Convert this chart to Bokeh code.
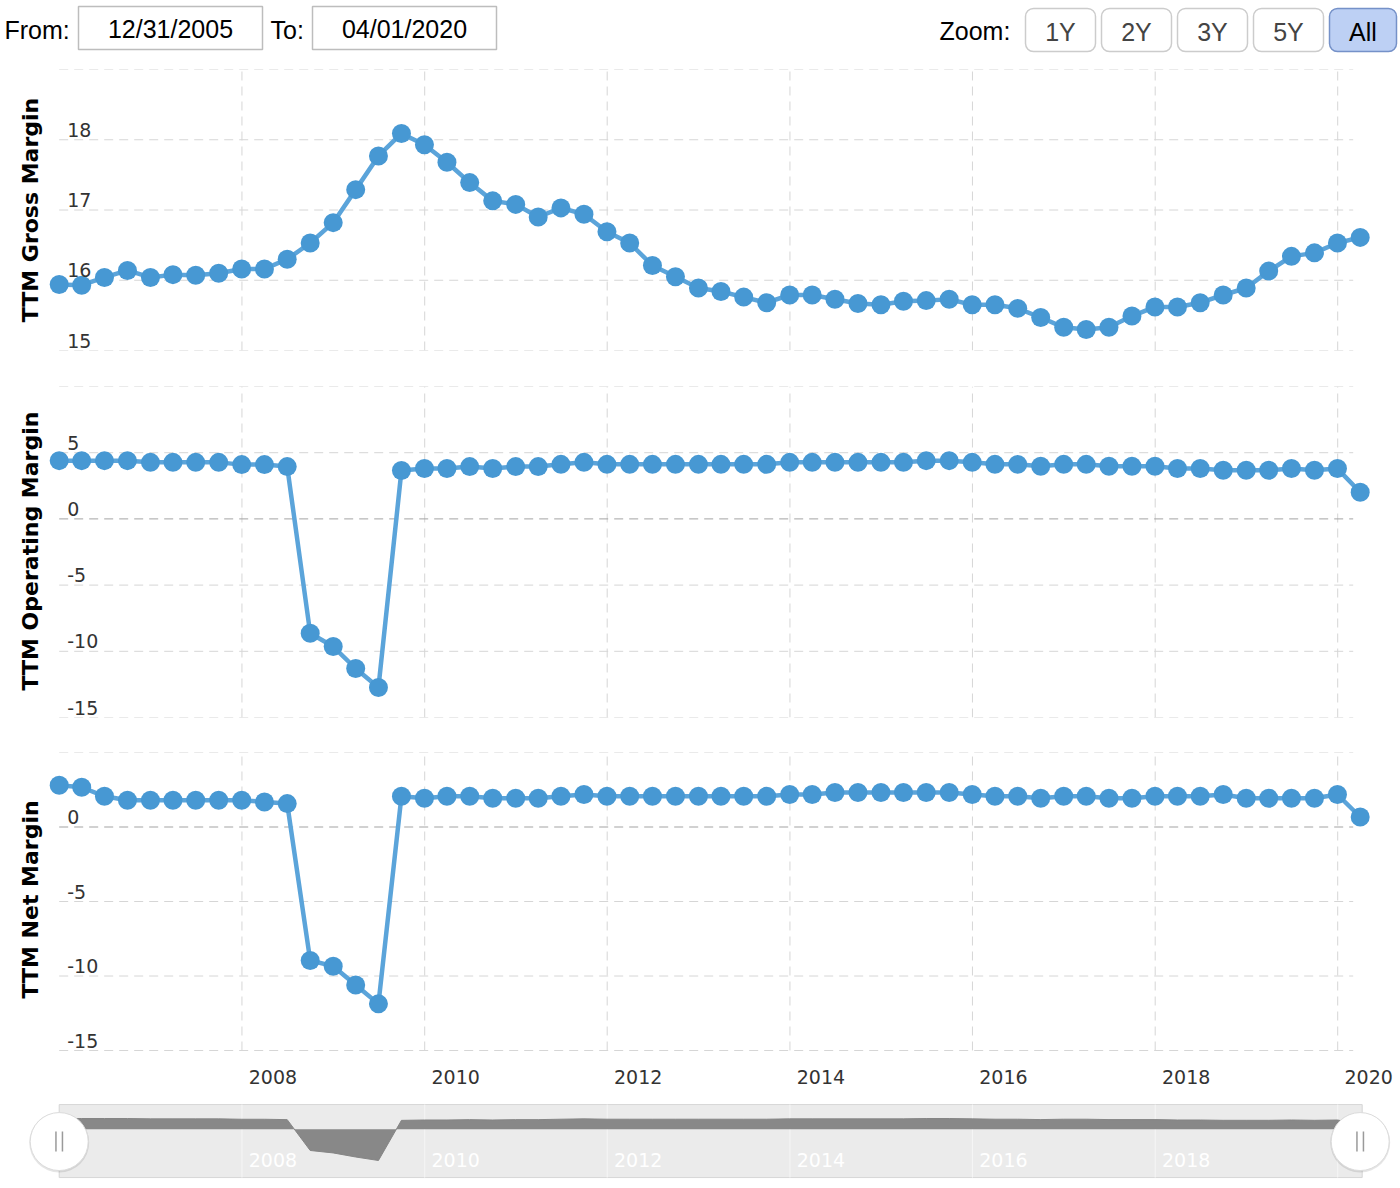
import math
import pandas as pd
from bokeh.plotting import figure
from bokeh.models import Range1d, Label
from bokeh.layouts import column
from bokeh.embed import file_html
from bokeh.resources import INLINE
from bokeh.core.properties import value

# ---------------- data ----------------
quarters = []
for yr in range(2005, 2021):
    for md in ["03-31", "06-30", "09-30", "12-31"]:
        d = f"{yr}-{md}"
        if "2005-12-31" <= d <= "2020-03-31":
            quarters.append(d)

gross_margin = [
    15.94, 15.93, 16.04, 16.14, 16.04, 16.08, 16.07, 16.10, 16.16, 16.16,
    16.30, 16.53, 16.82, 17.29, 17.77, 18.09, 17.93, 17.68, 17.39, 17.13,
    17.08, 16.90, 17.03, 16.94, 16.69, 16.53, 16.21, 16.05, 15.89, 15.84,
    15.76, 15.68, 15.79, 15.79, 15.73, 15.67, 15.65, 15.70, 15.71, 15.73,
    15.65, 15.65, 15.60, 15.47, 15.33, 15.30, 15.33, 15.49, 15.62, 15.62,
    15.68, 15.79, 15.89, 16.13, 16.34, 16.39, 16.53, 16.61,
]
operating_margin = [
    4.40, 4.40, 4.40, 4.40, 4.27, 4.27, 4.27, 4.27, 4.10, 4.10,
    3.95, -8.64, -9.64, -11.30, -12.73, 3.65, 3.80, 3.80, 3.95, 3.80,
    3.95, 3.95, 4.12, 4.27, 4.12, 4.12, 4.12, 4.12, 4.12, 4.12,
    4.12, 4.12, 4.27, 4.27, 4.27, 4.27, 4.27, 4.27, 4.40, 4.40,
    4.27, 4.12, 4.12, 3.97, 4.12, 4.12, 3.97, 3.97, 3.97, 3.80,
    3.80, 3.67, 3.67, 3.67, 3.80, 3.67, 3.80, 2.01,
]
net_margin = [
    2.80, 2.67, 2.06, 1.79, 1.79, 1.79, 1.79, 1.79, 1.79, 1.68,
    1.57, -8.96, -9.34, -10.60, -11.87, 2.06, 1.93, 2.06, 2.06, 1.93,
    1.93, 1.93, 2.06, 2.18, 2.06, 2.06, 2.06, 2.06, 2.06, 2.06,
    2.06, 2.06, 2.18, 2.18, 2.31, 2.31, 2.31, 2.31, 2.31, 2.31,
    2.18, 2.06, 2.06, 1.93, 2.06, 2.06, 1.93, 1.93, 2.06, 2.06,
    2.06, 2.18, 1.93, 1.93, 1.93, 1.93, 2.18, 0.67,
]

year_ticks = ["2008-01-01", "2010-01-01", "2012-01-01", "2014-01-01",
              "2016-01-01", "2018-01-01", "2020-01-01"]
year_labels = ["2008", "2010", "2012", "2014", "2016", "2018", "2020"]

gross_ticks = [15, 16, 17, 18, 19]
operating_ticks = [-15, -10, -5, 0, 5, 10]
net_ticks = [-15, -10, -5, 0, 5]

range_from = "12/31/2005"
range_to = "04/01/2020"
zoom_buttons = ["1Y", "2Y", "3Y", "5Y", "All"]

# ---------------- helpers ----------------
DAY = 86400000.0


def ms(t):
    return pd.Timestamp(t).value / 1e6


dates_ms = [ms(d) for d in quarters]
year_ms = [ms(d) for d in year_ticks]

W = 1400
FRAME_L, FRAME_R = 0, 1398
PX_PER_DAY = 0.25
FIRST_PX = 58.7
x_start = dates_ms[0] - (FIRST_PX - FRAME_L) / PX_PER_DAY * DAY
x_end = x_start + (FRAME_R - FRAME_L) / PX_PER_DAY * DAY
grid_end = dates_ms[-1] - 28 * DAY

LINE_C = "#5ba4da"
MARK_C = "#4798d3"
GRID_C = "#d6d6d6"
ZERO_C = "#a3a3a3"
DASH = "9 6"
TICK_FONT = "DejaVu Sans"


def base_fig(height, yr, top, bottom, xr):
    p = figure(width=W, height=height, output_backend="svg", toolbar_location=None,
               x_range=xr, y_range=yr,
               x_axis_location=None, y_axis_location=None,
               min_border_left=FRAME_L, min_border_right=W - FRAME_R,
               min_border_top=top, min_border_bottom=bottom)
    p.outline_line_color = None
    p.grid.visible = False
    p.background_fill_color = "white"
    p.border_fill_color = "white"
    return p


def panel(vals, ticks, title, title_y, height, top, bottom, ylo=None, zero=False):
    lo = ticks[0] if ylo is None else ylo
    p = base_fig(height, Range1d(lo, ticks[-1]), top, bottom, Range1d(x_start, x_end))
    ny = len(year_ms)
    p.segment(x0=year_ms, x1=year_ms, y0=[ticks[0]] * ny, y1=[ticks[-1]] * ny,
              line_color=GRID_C, line_width=1, line_dash=DASH)
    n = len(ticks)
    colors = [ZERO_C if (zero and t == 0) else GRID_C for t in ticks]
    p.segment(x0=[dates_ms[0]] * n, x1=[grid_end] * n, y0=ticks, y1=ticks,
              line_color=colors, line_width=1, line_dash=DASH)
    p.line(dates_ms, vals, line_color=LINE_C, line_width=4.5)
    p.scatter(dates_ms, vals, size=19, fill_color=MARK_C, line_color=None)
    for t in ticks[:-1]:
        p.add_layout(Label(x=dates_ms[0], y=t, x_offset=8, y_offset=3, text=str(t),
                           text_font=TICK_FONT, text_font_size="19px",
                           text_color="#333333", text_align="left",
                           text_baseline="bottom"))
    p.add_layout(Label(x=dates_ms[0], y=title_y, x_offset=-29, text=title,
                       angle=math.pi / 2, text_font="DejaVu Sans",
                       text_font_style="bold", text_font_size="22px",
                       text_color="#000000", text_align="center",
                       text_baseline="middle"))
    return p


p1 = panel(gross_margin, gross_ticks, "TTM Gross Margin", 17.0, 310, 9, 20)
p2 = panel(operating_margin, operating_ticks, "TTM Operating Margin", -2.43, 365, 16, 18, zero=True)
NET_PX_PER_UNIT = 298 / 20.0
p3 = panel(net_margin, net_ticks, "TTM Net Margin", -4.86, 360, 17, 0,
           ylo=net_ticks[-1] - 343 / NET_PX_PER_UNIT, zero=True)
for xm, lab in zip(year_ms, year_labels):
    p3.add_layout(Label(x=xm, y=net_ticks[0], x_offset=31, y_offset=-26, text=lab,
                        text_font=TICK_FONT, text_font_size="19px",
                        text_color="#333333", text_align="center",
                        text_baseline="middle"))

# ---------------- navigator ----------------
NAV_LO, NAV_HI = -19.7, 10.1
nav = base_fig(93, Range1d(-24.16, 13.8), 0, 0, Range1d(x_start, x_end))
nav.quad(left=[dates_ms[0]], right=[dates_ms[-1] + 8 * DAY], bottom=[NAV_LO], top=[NAV_HI],
         fill_color="#ebebeb", line_color="#d6d6d6", line_width=1)
ny = len(year_ms)
nav.segment(x0=year_ms, x1=year_ms, y0=[NAV_LO] * ny, y1=[NAV_HI] * ny,
            line_color="#f6f6f6", line_width=1)
nav.varea(x=dates_ms, y1=[0] * len(dates_ms), y2=operating_margin, fill_color="#888888")
nav.line(dates_ms, operating_margin, line_color="#858585", line_width=1)
for xm, lab in zip(year_ms, year_labels[:-1]):
    nav.add_layout(Label(x=xm, y=-12.7, x_offset=31, text=lab,
                         text_font=TICK_FONT, text_font_size="19px",
                         text_color="#ffffff", text_align="center",
                         text_baseline="middle"))
hx = [dates_ms[0], dates_ms[-1]]
nav.scatter(hx, [-5.4, -5.4], size=60, fill_color="#000000", fill_alpha=0.10, line_color=None)
nav.scatter(hx, [-5.0, -5.0], size=58, fill_color="#ffffff", line_color="#dcdcdc", line_width=1)
nav.rect(hx, [-5.0, -5.0], width=8, height=20, width_units="screen", height_units="screen",
         fill_color="#9a9a9a", line_color=None)
nav.rect(hx, [-5.0, -5.0], width=5, height=21, width_units="screen", height_units="screen",
         fill_color="#ffffff", line_color=None)

# ---------------- header ----------------
hdr = base_fig(60, Range1d(60, 0), 0, 0, Range1d(FRAME_L, FRAME_R))
HF = value("Liberation Sans")
hdr.quad(left=[78, 312], right=[262, 496], top=[6, 6], bottom=[49, 49],
         fill_color="#ffffff", line_color="#bdbdbd", line_width=1.5)
hdr.text(x=[4, 270, 939], y=[29, 29, 30], text=["From:", "To:", "Zoom:"],
         text_font=HF, text_font_size="25px", text_color="#000000",
         text_align="left", text_baseline="middle")
hdr.text(x=[170, 404], y=[28, 28], text=[range_from, range_to],
         text_font=HF, text_font_size="25px", text_color="#000000",
         text_align="center", text_baseline="middle")
bl = [1025, 1101, 1177, 1253, 1329]
br = [1095, 1171, 1247, 1323, 1396]
fills = ["#ffffff"] * 4 + ["#bdd0f4"]
lines = ["#cccccc"] * 4 + ["#7591c8"]
hdr.quad(left=bl, right=br, top=[8] * 5, bottom=[51] * 5, fill_color=fills,
         line_color=lines, line_width=1.5, border_radius=8)
hdr.text(x=[(a + b) / 2 for a, b in zip(bl, br)], y=[31] * 5, text=zoom_buttons,
         text_font=HF, text_font_size="25px",
         text_color=["#444444"] * 4 + ["#000000"],
         text_align="center", text_baseline="middle")

layout = column(hdr, p1, p2, p3, nav, spacing=0)
open("out.html", "w").write(file_html(layout, INLINE))
